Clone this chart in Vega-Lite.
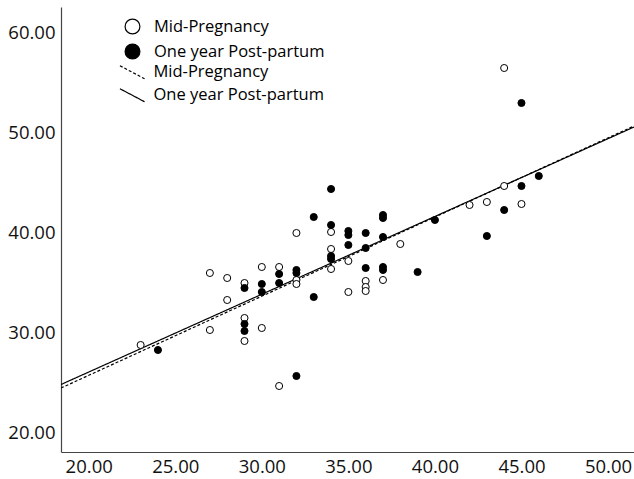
{
  "$schema": "https://vega.github.io/schema/vega-lite/v6.json",
  "width": 573,
  "height": 445,
  "autosize": "none",
  "padding": {"left": 61, "top": 7, "right": 0, "bottom": 27},
  "background": "white",
  "config": {
    "view": {"stroke": null},
    "font": "Open Sans",
    "axis": {"grid": false, "ticks": false, "domainColor": "#444444", "domainWidth": 1.2, "labelFont": "Open Sans", "labelFontSize": 18.5, "labelColor": "#111111", "title": null},
    "legend": {"labelFont": "Open Sans", "labelFontSize": 16.5, "labelColor": "#000000", "padding": 0, "title": null, "labelLimit": 400}
  },
  "datasets": {
    "points": [
      {"x": 23, "y": 28.7, "group": "Mid-Pregnancy"},
      {"x": 27, "y": 35.9, "group": "Mid-Pregnancy"},
      {"x": 27, "y": 30.2, "group": "Mid-Pregnancy"},
      {"x": 28, "y": 35.4, "group": "Mid-Pregnancy"},
      {"x": 28, "y": 33.2, "group": "Mid-Pregnancy"},
      {"x": 29, "y": 34.9, "group": "Mid-Pregnancy"},
      {"x": 29, "y": 31.4, "group": "Mid-Pregnancy"},
      {"x": 29, "y": 29.1, "group": "Mid-Pregnancy"},
      {"x": 30, "y": 36.5, "group": "Mid-Pregnancy"},
      {"x": 30, "y": 30.4, "group": "Mid-Pregnancy"},
      {"x": 31, "y": 36.5, "group": "Mid-Pregnancy"},
      {"x": 31, "y": 24.6, "group": "Mid-Pregnancy"},
      {"x": 32, "y": 39.9, "group": "Mid-Pregnancy"},
      {"x": 32, "y": 35.2, "group": "Mid-Pregnancy"},
      {"x": 32, "y": 34.8, "group": "Mid-Pregnancy"},
      {"x": 34, "y": 40.0, "group": "Mid-Pregnancy"},
      {"x": 34, "y": 38.3, "group": "Mid-Pregnancy"},
      {"x": 34, "y": 36.3, "group": "Mid-Pregnancy"},
      {"x": 35, "y": 37.1, "group": "Mid-Pregnancy"},
      {"x": 35, "y": 34.0, "group": "Mid-Pregnancy"},
      {"x": 36, "y": 35.1, "group": "Mid-Pregnancy"},
      {"x": 36, "y": 34.5, "group": "Mid-Pregnancy"},
      {"x": 36, "y": 34.1, "group": "Mid-Pregnancy"},
      {"x": 37, "y": 35.2, "group": "Mid-Pregnancy"},
      {"x": 38, "y": 38.8, "group": "Mid-Pregnancy"},
      {"x": 42, "y": 42.7, "group": "Mid-Pregnancy"},
      {"x": 43, "y": 43.0, "group": "Mid-Pregnancy"},
      {"x": 44, "y": 56.4, "group": "Mid-Pregnancy"},
      {"x": 44, "y": 44.6, "group": "Mid-Pregnancy"},
      {"x": 45, "y": 42.8, "group": "Mid-Pregnancy"},
      {"x": 24, "y": 28.2, "group": "One year Post-partum"},
      {"x": 29, "y": 34.4, "group": "One year Post-partum"},
      {"x": 29, "y": 30.8, "group": "One year Post-partum"},
      {"x": 29, "y": 30.1, "group": "One year Post-partum"},
      {"x": 30, "y": 34.8, "group": "One year Post-partum"},
      {"x": 30, "y": 34.0, "group": "One year Post-partum"},
      {"x": 31, "y": 35.8, "group": "One year Post-partum"},
      {"x": 31, "y": 34.9, "group": "One year Post-partum"},
      {"x": 32, "y": 36.2, "group": "One year Post-partum"},
      {"x": 32, "y": 35.9, "group": "One year Post-partum"},
      {"x": 32, "y": 25.6, "group": "One year Post-partum"},
      {"x": 33, "y": 41.5, "group": "One year Post-partum"},
      {"x": 33, "y": 33.5, "group": "One year Post-partum"},
      {"x": 34, "y": 44.3, "group": "One year Post-partum"},
      {"x": 34, "y": 40.7, "group": "One year Post-partum"},
      {"x": 34, "y": 37.6, "group": "One year Post-partum"},
      {"x": 34, "y": 37.3, "group": "One year Post-partum"},
      {"x": 35, "y": 40.1, "group": "One year Post-partum"},
      {"x": 35, "y": 39.7, "group": "One year Post-partum"},
      {"x": 35, "y": 38.7, "group": "One year Post-partum"},
      {"x": 36, "y": 39.9, "group": "One year Post-partum"},
      {"x": 36, "y": 38.4, "group": "One year Post-partum"},
      {"x": 36, "y": 36.4, "group": "One year Post-partum"},
      {"x": 37, "y": 41.7, "group": "One year Post-partum"},
      {"x": 37, "y": 41.4, "group": "One year Post-partum"},
      {"x": 37, "y": 39.5, "group": "One year Post-partum"},
      {"x": 37, "y": 36.5, "group": "One year Post-partum"},
      {"x": 37, "y": 36.2, "group": "One year Post-partum"},
      {"x": 39, "y": 36.0, "group": "One year Post-partum"},
      {"x": 40, "y": 41.2, "group": "One year Post-partum"},
      {"x": 43, "y": 39.6, "group": "One year Post-partum"},
      {"x": 44, "y": 42.2, "group": "One year Post-partum"},
      {"x": 45, "y": 52.9, "group": "One year Post-partum"},
      {"x": 45, "y": 44.6, "group": "One year Post-partum"},
      {"x": 46, "y": 45.6, "group": "One year Post-partum"}
    ],
    "fits": [
      {"x": 18.4, "y": 24.4, "fit": "Mid-Pregnancy"},
      {"x": 51.5, "y": 50.6, "fit": "Mid-Pregnancy"},
      {"x": 18.4, "y": 24.75, "fit": "One year Post-partum"},
      {"x": 51.5, "y": 50.5, "fit": "One year Post-partum"}
    ]
  },
  "layer": [
    {
      "data": {"name": "fits"},
      "mark": {"type": "line", "color": "black", "strokeWidth": 1.2, "clip": true},
      "encoding": {
        "x": {"field": "x", "type": "quantitative", "scale": {"domain": [18.4, 51.5], "nice": false, "zero": false}, "axis": {"values": [20, 25, 30, 35, 40, 45, 50], "format": ".2f", "labelPadding": 5}},
        "y": {"field": "y", "type": "quantitative", "scale": {"domain": [18.0, 62.5], "nice": false, "zero": false}, "axis": {"values": [20, 30, 40, 50, 60], "format": ".2f", "labelPadding": 6}},
        "strokeDash": {"field": "fit", "type": "nominal", "scale": {"domain": ["Mid-Pregnancy", "One year Post-partum"], "range": [[3, 2], [1, 0]]},
          "legend": {"orient": "none", "legendX": 63, "legendY": 57, "symbolType": "M-1.7,-0.9L1.7,0.9", "symbolSize": 210, "symbolStrokeColor": "black", "symbolStrokeWidth": 1.2, "labelOffset": 13, "rowPadding": 4}}
      }
    },
    {
      "data": {"name": "points"},
      "mark": {"type": "point", "shape": "circle", "filled": true, "stroke": "black", "strokeWidth": 1, "size": 50, "opacity": 1},
      "encoding": {
        "x": {"field": "x", "type": "quantitative"},
        "y": {"field": "y", "type": "quantitative"},
        "fill": {"field": "group", "type": "nominal", "scale": {"domain": ["Mid-Pregnancy", "One year Post-partum"], "range": ["white", "black"]},
          "legend": {"orient": "none", "legendX": 63, "legendY": 11, "symbolType": "circle", "symbolSize": 220, "symbolStrokeColor": "black", "symbolStrokeWidth": 1.2, "symbolOpacity": 1, "labelOffset": 13, "rowPadding": 4}}
      }
    }
  ],
  "resolve": {"legend": {"fill": "independent", "strokeDash": "independent"}}
}
